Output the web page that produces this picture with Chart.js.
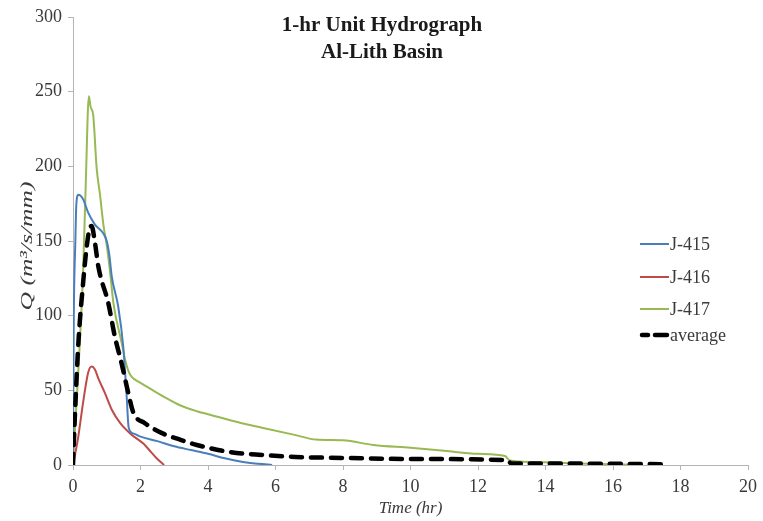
<!DOCTYPE html>
<html>
<head>
<meta charset="utf-8">
<script src="https://cdn.jsdelivr.net/npm/chart.js@4"></script>
<style>
html,body{margin:0;padding:0;background:#ffffff;}
#wrap{width:763px;height:521px;position:relative;}
</style>
</head>
<body>
<div id="wrap"><canvas id="c" width="763" height="521"></canvas></div>
<script>
// ---- text ----
const chartTitle = ['1-hr Unit Hydrograph', 'Al-Lith Basin'];
const xAxisTitle = 'Time (hr)';
const yAxisTitle = 'Q (m³/s/mm)';
const seriesNames = ['J-415', 'J-416', 'J-417', 'average'];

// ---- tick labels ----
const xTicks = [0, 2, 4, 6, 8, 10, 12, 14, 16, 18, 20];
const yTicks = [0, 50, 100, 150, 200, 250, 300];

// ---- series: time (hr) and Q (m3/s/mm) ----
const t415 = [0, 0.02, 0.07, 0.1, 0.16, 0.3, 0.45, 0.65, 0.9, 1.0, 1.08, 1.15, 1.34, 1.49, 1.59, 1.65, 1.8, 2.0, 2.5, 3.0, 3.5, 4.0, 4.5, 5.0, 5.5, 5.9];
const q415 = [0, 90, 150, 175, 181, 178, 169, 161, 155, 150, 140, 126, 106, 79, 46, 25, 21, 19, 16, 12.5, 10, 7.5, 4.5, 2.2, 0.8, 0];

const t416 = [0, 0.15, 0.3, 0.45, 0.55, 0.65, 0.75, 0.95, 1.15, 1.4, 1.7, 2.1, 2.3, 2.5, 2.7];
const q416 = [0, 18, 42, 62, 66, 64, 58, 48, 37, 28, 21, 14, 9, 4, 0];

const t417 = [0, 0.16, 0.3, 0.38, 0.47, 0.52, 0.6, 0.7, 0.8, 0.9, 1.0, 1.1, 1.2, 1.44, 1.55, 1.64, 1.74, 2.0, 2.37, 2.67, 3.17, 3.67, 4.0, 5.0, 5.6, 6.6, 7.2, 8.0, 8.9, 10.0, 11.0, 12.0, 12.8, 12.95, 14.0, 15.0, 16.0, 16.8];
const q417 = [0, 64, 130, 190, 247, 240, 234, 199, 181, 161, 147, 129, 108, 82, 70, 63, 59, 55, 50, 46, 40, 36, 34, 28, 25, 20, 17, 16.5, 13.4, 11.5, 9.5, 7.5, 6, 3, 1.8, 1, 0.5, 0];

const tAvg = [0, 0.06, 0.16, 0.3, 0.4, 0.5, 0.55, 0.65, 0.75, 1.05, 1.24, 1.44, 1.64, 1.79, 2.13, 2.67, 3.17, 3.67, 4.65, 5.64, 6.6, 8.1, 10.0, 12.85, 13.0, 14.0, 16.0, 17.6];
const qAvg = [0, 35, 82, 122, 145, 159, 160, 149, 133, 108, 86, 68, 48, 35, 28, 21, 17, 13.4, 8.7, 6.7, 5.4, 4.7, 4, 3.3, 1, 1, 0.8, 0.5];

// ---- styling ----
const colors = ['#4a7ebb', '#be4b48', '#98b954', '#000000'];
const serif = "'Liberation Serif', 'DejaVu Serif', serif";
const textColor = '#3a3a3a';
const axisColor = '#b4b4b4';

function pts(t, q) { return t.map((v, i) => ({x: v, y: q[i]})); }

const seriesT = [t415, t416, t417, tAvg];
const seriesQ = [q415, q416, q417, qAvg];

const datasets = seriesNames.map((name, i) => {
  const isAvg = i === 3;
  return {
    label: name,
    data: pts(seriesT[i], seriesQ[i]),
    borderColor: colors[i],
    backgroundColor: colors[i],
    borderWidth: isAvg ? 4.5 : 2,
    borderDash: isAvg ? [11, 9] : [],
    borderCapStyle: isAvg ? 'round' : 'butt',
    borderJoinStyle: 'round',
    pointRadius: 0,
    fill: false,
    cubicInterpolationMode: 'monotone',
    order: isAvg ? 0 : 1
  };
});

const overlay = {
  id: 'overlay',
  afterDraw(chart) {
    const ctx = chart.ctx;
    ctx.save();
    // title
    ctx.fillStyle = '#1a1a1a';
    ctx.font = 'bold 21px ' + serif;
    ctx.textAlign = 'center';
    ctx.textBaseline = 'alphabetic';
    ctx.fillText(chartTitle[0], 382, 31);
    ctx.fillText(chartTitle[1], 382, 58);
    // y axis title (stretched along its length, as in the reference)
    ctx.save();
    ctx.translate(28, 246);
    ctx.rotate(-Math.PI / 2);
    ctx.scale(1.5, 1);
    ctx.font = 'italic 17px ' + serif;
    ctx.fillStyle = textColor;
    ctx.textAlign = 'center';
    ctx.textBaseline = 'middle';
    ctx.fillText(yAxisTitle, 0, 0);
    ctx.restore();
    // legend
    const ys = [244, 277, 309, 335];
    ctx.font = '18px ' + serif;
    ctx.textAlign = 'left';
    ctx.textBaseline = 'middle';
    seriesNames.forEach((name, i) => {
      const y = ys[i];
      ctx.strokeStyle = colors[i];
      if (i === 3) {
        ctx.lineWidth = 4.5;
        ctx.lineCap = 'round';
        ctx.beginPath();
        ctx.moveTo(642, y); ctx.lineTo(648, y);
        ctx.moveTo(655, y); ctx.lineTo(667, y);
        ctx.stroke();
      } else {
        ctx.lineWidth = 2;
        ctx.lineCap = 'butt';
        ctx.beginPath();
        ctx.moveTo(640, y); ctx.lineTo(669, y);
        ctx.stroke();
      }
      ctx.fillStyle = textColor;
      ctx.fillText(name, 670, y + 1);
    });
    ctx.restore();
  }
};

new Chart(document.getElementById('c'), {
  type: 'line',
  data: { datasets },
  options: {
    responsive: false,
    animation: false,
    devicePixelRatio: 1,
    layout: { padding: { left: 0, right: 15, top: 17, bottom: 0 } },
    plugins: {
      legend: { display: false },
      title: { display: false },
      tooltip: { enabled: false }
    },
    scales: {
      x: {
        type: 'linear',
        min: xTicks[0],
        max: xTicks[xTicks.length - 1],
        afterBuildTicks(scale) { scale.ticks = xTicks.map(v => ({value: v})); },
        ticks: { color: textColor, font: { family: serif, size: 18 }, padding: 6, maxRotation: 0 },
        grid: { drawOnChartArea: false, drawTicks: true, tickLength: 5, color: axisColor },
        border: { display: true, color: axisColor, width: 1 },
        title: { display: true, text: xAxisTitle, color: textColor, font: { family: serif, size: 17, style: 'italic' }, padding: { top: 0, bottom: 2 } },
        afterFit(scale) { scale.height = 56; }
      },
      y: {
        type: 'linear',
        min: yTicks[0],
        max: yTicks[yTicks.length - 1],
        afterBuildTicks(scale) { scale.ticks = yTicks.map(v => ({value: v})); },
        ticks: { color: textColor, font: { family: serif, size: 18 }, padding: 6 },
        grid: { drawOnChartArea: false, drawTicks: true, tickLength: 5, color: axisColor },
        border: { display: true, color: axisColor, width: 1 },
        title: { display: false },
        afterFit(scale) { scale.width = 73; }
      }
    }
  },
  plugins: [overlay]
});
</script>
</body>
</html>
